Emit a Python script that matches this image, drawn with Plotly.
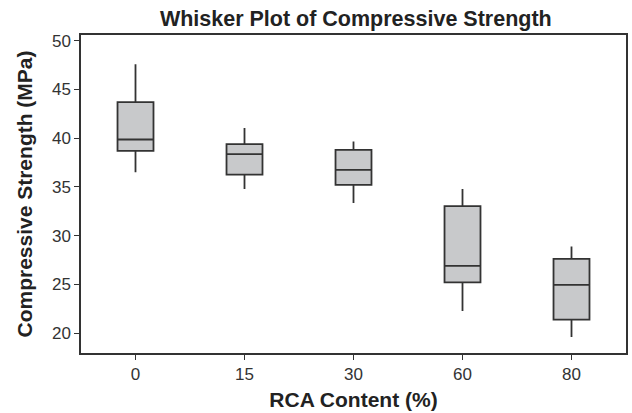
import plotly.graph_objects as go

categories = ["0", "15", "30", "60", "80"]
lower_whisker = [36.5, 34.8, 33.35, 22.25, 19.6]
q1_values = [38.7, 36.27, 35.22, 25.2, 21.37]
median_values = [39.87, 38.37, 36.76, 26.9, 24.95]
q3_values = [43.7, 39.4, 38.81, 33.03, 27.62]
upper_whisker = [47.6, 41.04, 39.66, 34.8, 28.88]
y_ticks = [20, 25, 30, 35, 40, 45, 50]

line_col = "#333333"
font_fam = "Liberation Sans, Arial, sans-serif"

fig = go.Figure()
fig.add_trace(go.Box(
    x=categories,
    q1=q1_values,
    median=median_values,
    q3=q3_values,
    lowerfence=lower_whisker,
    upperfence=upper_whisker,
    fillcolor="#c8c9cb",
    line=dict(color=line_col, width=1.8),
    whiskerwidth=0,
    width=0.33,
    boxpoints=False,
    showlegend=False,
    hoverinfo="skip",
))

fig.update_layout(
    width=632, height=413,
    margin=dict(l=81, r=4, t=35, b=60),
    paper_bgcolor="white", plot_bgcolor="white",
    font=dict(family=font_fam, color="#222222", size=17),
    title=dict(text="<b>Whisker Plot of Compressive Strength</b>",
               x=0.563, xanchor="center", y=0.955, yanchor="middle",
               font=dict(size=21.5, family=font_fam, color="#222222")),
)
fig.update_xaxes(
    type="category", range=[-0.5, 4.5],
    showline=True, linecolor=line_col, linewidth=1.5, mirror=True,
    ticks="outside", ticklen=5, tickwidth=1.2, tickcolor=line_col,
    showgrid=False, zeroline=False,
    tickfont=dict(size=17, color="#333333"),
    title=dict(text="<b>RCA Content (%)</b>", font=dict(size=21, color="#222222"), standoff=9),
)
fig.update_yaxes(
    range=[17.95, 50.6], tickvals=y_ticks,
    showline=True, linecolor=line_col, linewidth=1.5, mirror=True,
    ticks="outside", ticklen=5, tickwidth=1.2, tickcolor=line_col,
    showgrid=False, zeroline=False,
    tickfont=dict(size=17, color="#333333"),
    title=dict(text="<b>Compressive Strength (MPa)</b>", font=dict(size=21, color="#222222"), standoff=14),
)

fig.write_html("out.html")
